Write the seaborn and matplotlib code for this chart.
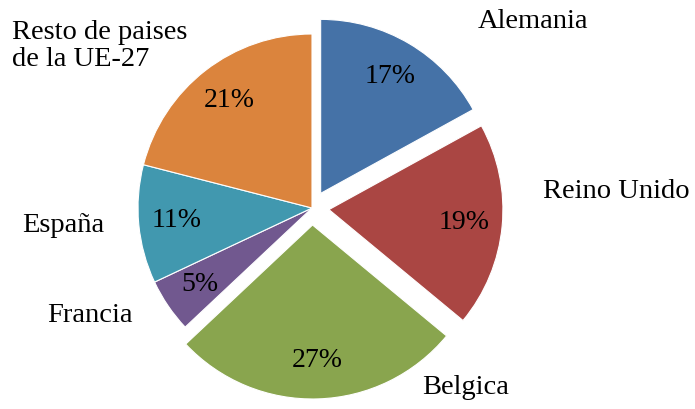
import matplotlib
matplotlib.use("Agg")
import matplotlib.pyplot as plt
import seaborn as sns

categories = ["Alemania", "Reino Unido", "Belgica", "Francia", "España", "Resto de paises\nde la UE-27"]
values = [17, 19, 27, 5, 11, 21]
colors = ["#4572A7", "#AA4643", "#89A54E", "#71588F", "#4198AF", "#DB843D"]
explode_px = [17, 17, 17, 0, 0, 0]

sns.set_theme(style="white")
plt.rcParams["font.family"] = ["Liberation Serif", "DejaVu Serif"]

W, H = 695, 409
fig = plt.figure(figsize=(W / 100, H / 100), dpi=100)
ax = fig.add_axes([0, 0, 1, 1])

cx, cy = 312, H - 208
R = 174
wedges, texts, autotexts = ax.pie(
    values, colors=colors, explode=explode_px, center=(cx, cy), radius=R,
    startangle=90, counterclock=False, autopct="%1.0f%%", pctdistance=0.78,
    wedgeprops=dict(edgecolor="white", linewidth=0.8), frame=True,
    textprops=dict(fontsize=20, color="black"),
)
ax.set_xlim(0, W)
ax.set_ylim(0, H)
ax.set_aspect("equal")
ax.axis("off")

# label positions (pixel coords, left edge / vertical centre)
label_pos = [(478, 22), (543, 192), (422, 388), (47, 315), (22, 225), (12, 46)]
for name, (x, y) in zip(categories, label_pos):
    ax.text(x, H - y, name, ha="left", va="center", fontsize=20.5,
            color="black", linespacing=1.1)

fig.savefig("out.png", dpi=100)
